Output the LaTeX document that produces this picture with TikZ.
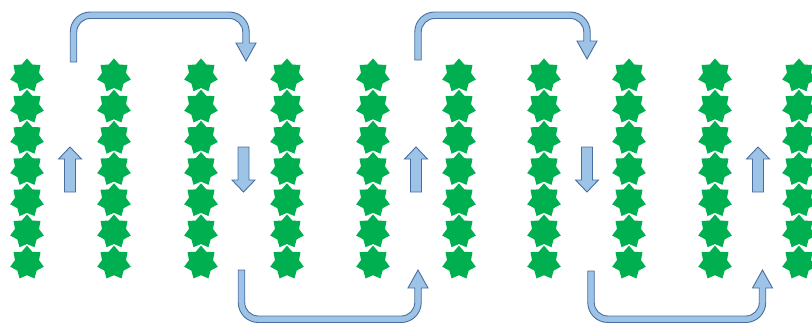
\documentclass[tikz,border=0pt]{standalone}
\usetikzlibrary{shapes.geometric}

\definecolor{leafgreen}{RGB}{0,176,80}
\definecolor{flowfill}{RGB}{157,195,230}
\definecolor{flowline}{RGB}{72,110,160}

\tikzset{
  plant/.style={shape=star, star points=7, star point ratio=1.4,
    minimum size=34.5pt, inner sep=0pt, fill=leafgreen, draw=none},
  flow/.style={fill=flowfill, draw=flowline, line width=0.9pt, line join=miter}
}

% U-shaped block arrow over the top: left shaft rises from #4, band at #3,
% right shaft comes down to a head whose tip is at #5
\newcommand{\bendtop}[5]{%
  \draw[flow] (#1-3.25,#4) -- (#1-3.25,#3+20)
    .. controls (#1-3.25,#3+8.95) and (#1+5.7,#3) .. (#1+16.75,#3)
    -- (#2-16.75,#3)
    .. controls (#2-5.7,#3) and (#2+3.25,#3+8.95) .. (#2+3.25,#3+20)
    -- (#2+3.25,#5-18) -- (#2+10,#5-18) -- (#2,#5) -- (#2-10,#5-18) -- (#2-3.25,#5-18)
    -- (#2-3.25,#3+20)
    .. controls (#2-3.25,#3+12.54) and (#2-9.29,#3+6.5) .. (#2-16.75,#3+6.5)
    -- (#1+16.75,#3+6.5)
    .. controls (#1+9.29,#3+6.5) and (#1+3.25,#3+12.54) .. (#1+3.25,#3+20)
    -- (#1+3.25,#4) -- cycle;}

% U-shaped block arrow along the bottom, head pointing up on the right
\newcommand{\bendbottom}[5]{%
  \draw[flow] (#1-3.25,#4) -- (#1-3.25,#3-20)
    .. controls (#1-3.25,#3-8.95) and (#1+5.7,#3) .. (#1+16.75,#3)
    -- (#2-16.75,#3)
    .. controls (#2-5.7,#3) and (#2+3.25,#3-8.95) .. (#2+3.25,#3-20)
    -- (#2+3.25,#5+18) -- (#2+10,#5+18) -- (#2,#5) -- (#2-10,#5+18) -- (#2-3.25,#5+18)
    -- (#2-3.25,#3-20)
    .. controls (#2-3.25,#3-12.54) and (#2-9.29,#3-6.5) .. (#2-16.75,#3-6.5)
    -- (#1+16.75,#3-6.5)
    .. controls (#1+9.29,#3-6.5) and (#1+3.25,#3-12.54) .. (#1+3.25,#3-20)
    -- (#1+3.25,#4) -- cycle;}

% short straight block arrows between the rows
\newcommand{\smallup}[1]{%
  \draw[flow] (#1-5.5,192) -- (#1-5.5,159) -- (#1-11.5,159) -- (#1,147)
    -- (#1+11.5,159) -- (#1+5.5,159) -- (#1+5.5,192) -- cycle;}
\newcommand{\smalldown}[1]{%
  \draw[flow] (#1-5.5,147) -- (#1-5.5,180) -- (#1-11.5,180) -- (#1,192)
    -- (#1+11.5,180) -- (#1+5.5,180) -- (#1+5.5,147) -- cycle;}

\begin{document}
\begin{tikzpicture}[x=1pt,y=-1pt]
  \useasboundingbox (0,0) rectangle (812,324);
  \clip (0,0) rectangle (812,324);

  % rows of plants
  \foreach \cx [count=\c] in {27,114,201,287,373,459,544,629,715,799}{
    \foreach \r in {0,...,6}{
      \node[plant] (s\c-\r) at (\cx,{75.7+31.2*\r}) {};
    }
  }

  % walking direction between the rows
  \smallup{70}
  \smalldown{243.5}
  \smallup{416}
  \smalldown{587}
  \smallup{758}

  % turns at the row ends
  \bendtop{73.5}{246}{12}{62}{61}
  \bendtop{418}{587}{12}{60}{59}
  \bendbottom{241.5}{418}{322.5}{270}{270}
  \bendbottom{591}{762.5}{322.5}{271}{270}
\end{tikzpicture}
\end{document}
